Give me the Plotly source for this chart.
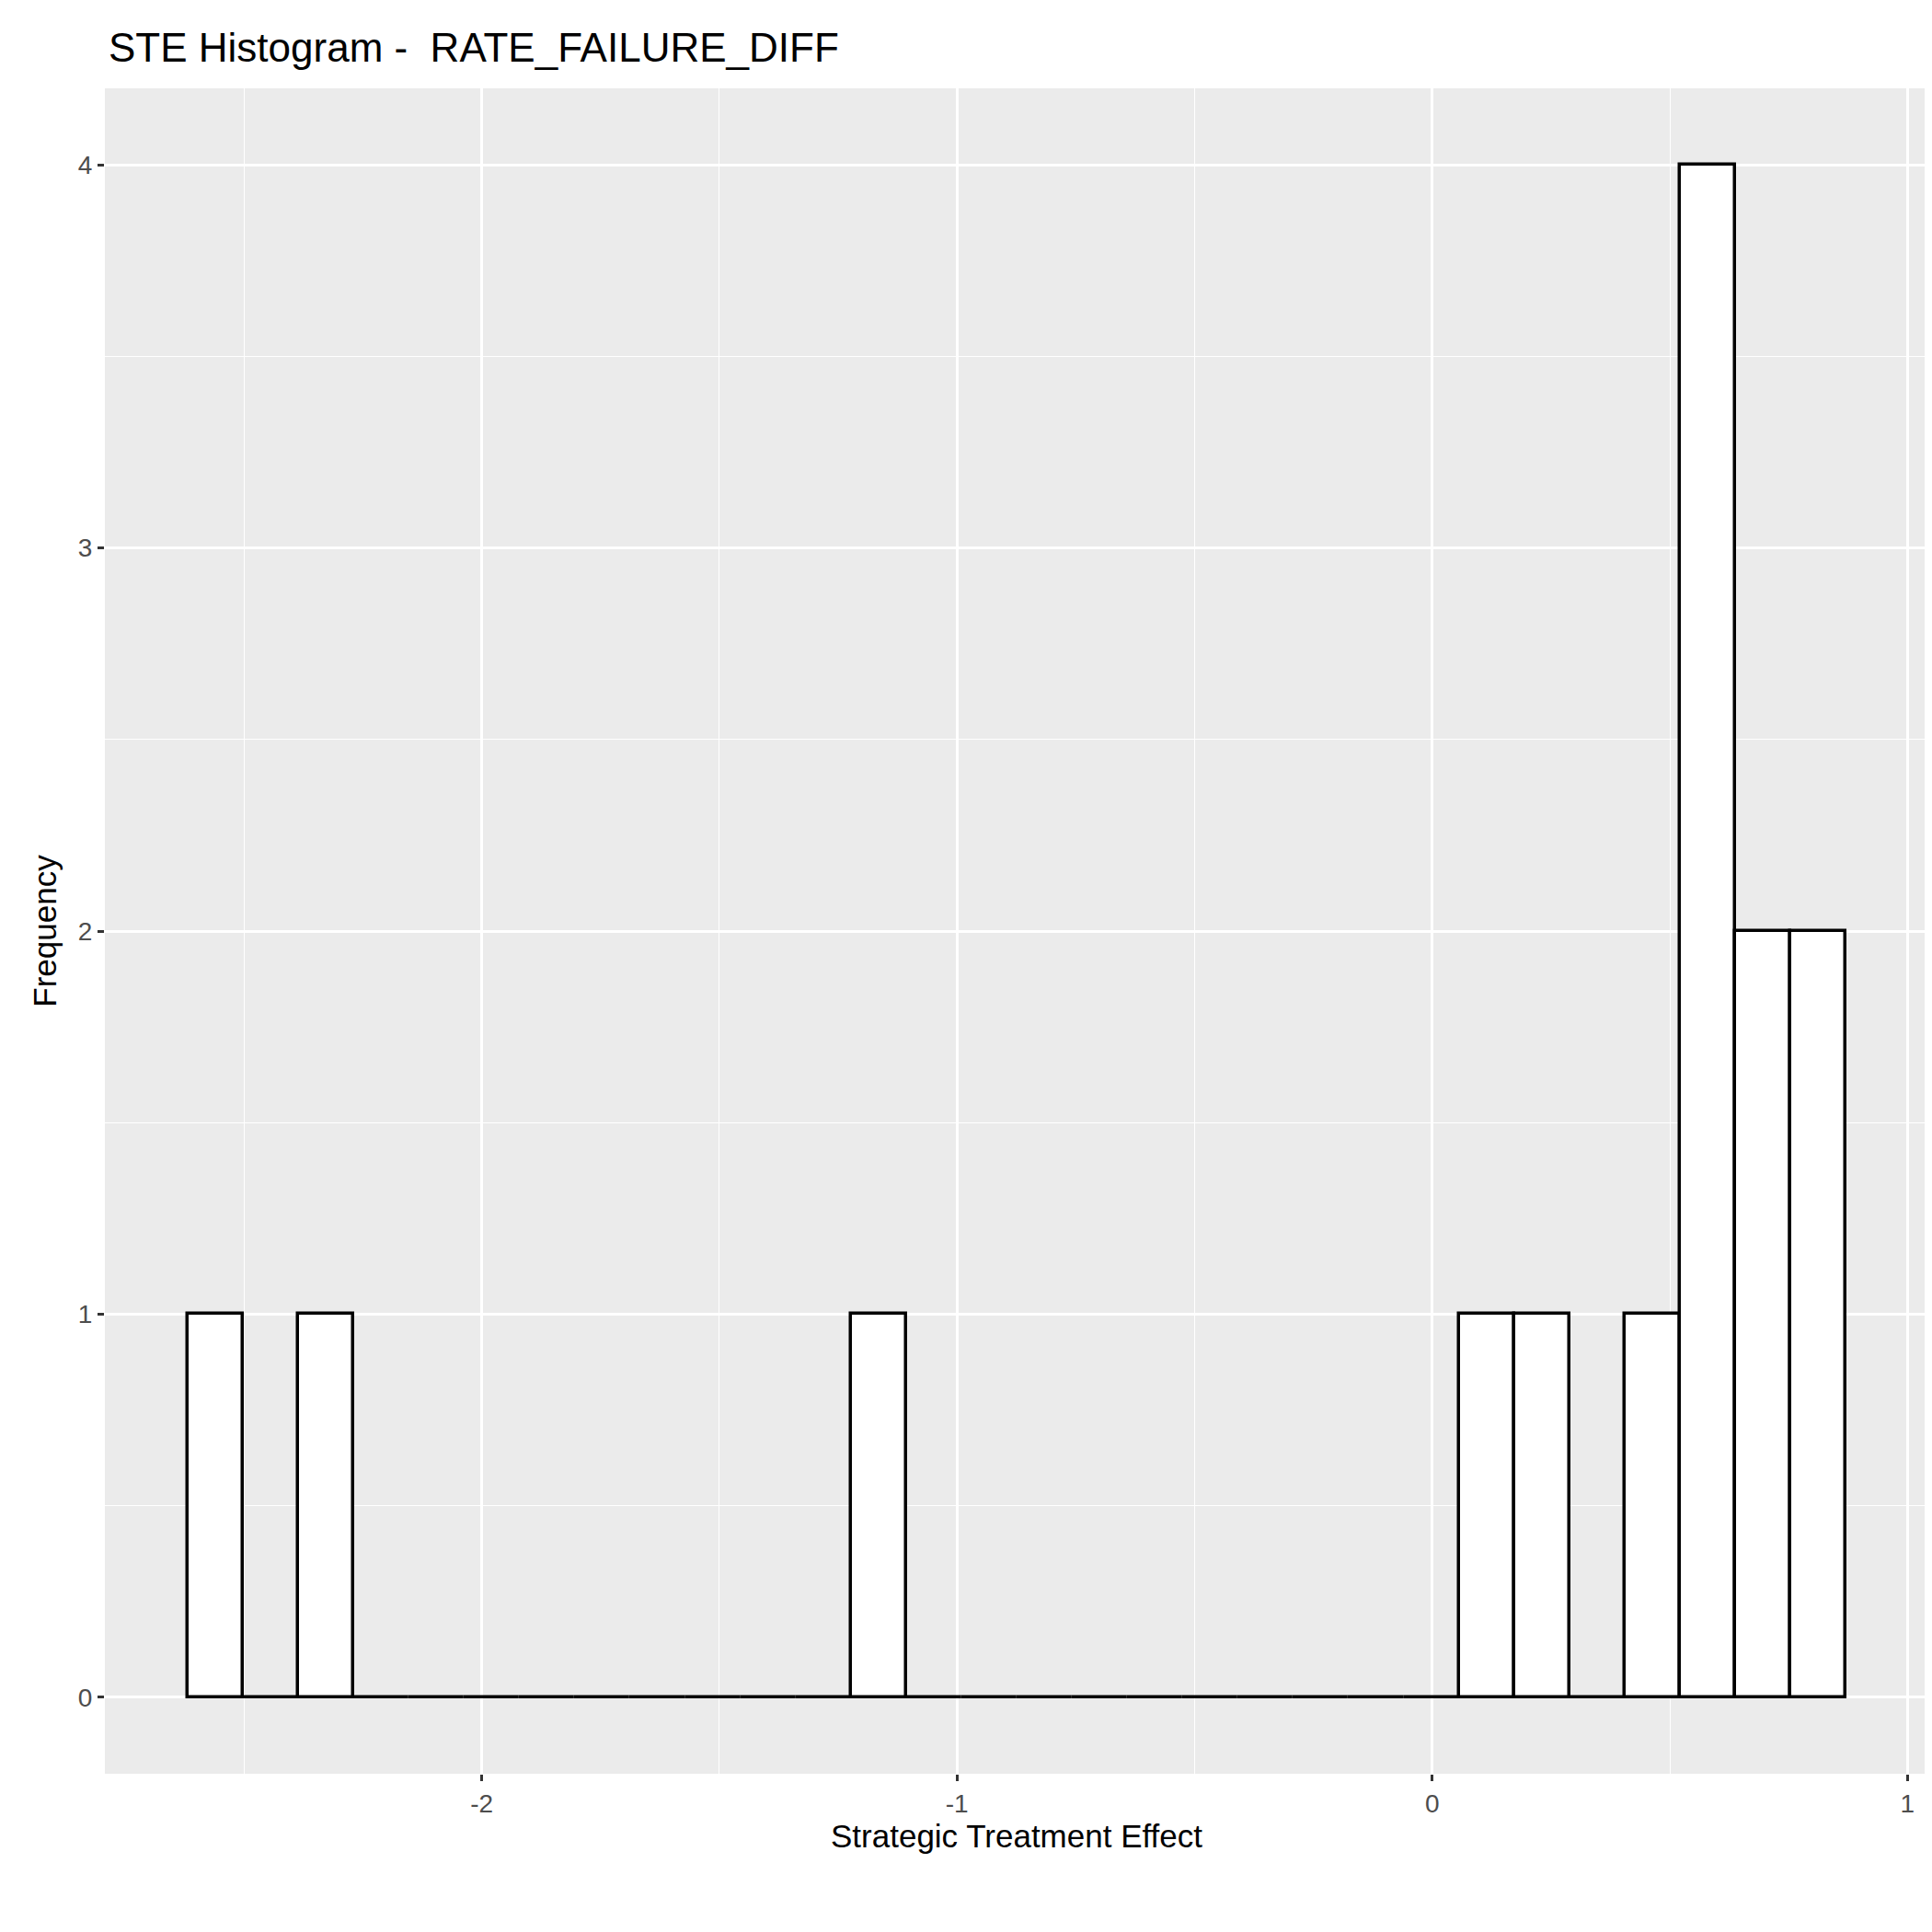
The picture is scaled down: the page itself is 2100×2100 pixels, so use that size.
import plotly.graph_objects as go

# 30-bin histogram
bin_start = -2.619
bin_end = 0.870
counts = [1, 0, 1, 0, 0, 0, 0, 0, 0, 0, 0, 0, 1, 0, 0, 0, 0, 0, 0, 0, 0, 0, 0, 1, 1, 0, 1, 4, 2, 2]
x_ticks = [-2, -1, 0, 1]
x_labels = ["-2", "-1", "0", "1"]
y_ticks = [0, 1, 2, 3, 4]

n = len(counts)
bw = (bin_end - bin_start) / n
centers = [bin_start + bw * (i + 0.5) for i in range(n)]

fig = go.Figure()
fig.add_trace(go.Bar(
    x=centers, y=counts, width=bw,
    marker=dict(color="white", line=dict(color="black", width=3.5)),
    showlegend=False,
))

font = "Liberation Sans, Arial, sans-serif"
fig.update_layout(
    width=2100, height=2100,
    margin=dict(l=106, r=12, t=88, b=180),
    paper_bgcolor="white", plot_bgcolor="#EBEBEB",
    title=dict(text="STE Histogram -  RATE_FAILURE_DIFF", x=110/2100, xanchor="left",
               y=1-44/2100, yanchor="middle", font=dict(family=font, size=44, color="black")),
    bargap=0,
)
axis_common = dict(
    showgrid=True, gridcolor="white", gridwidth=2.6,
    zeroline=False, showline=False,
    ticks="outside", ticklen=7, tickwidth=2.5, tickcolor="#333333",
    tickfont=dict(family=font, size=28, color="#4D4D4D"),
    title_font=dict(family=font, size=35, color="black"),
)
fig.update_xaxes(range=[-2.793, 1.044], tickvals=x_ticks, ticktext=x_labels,
                 minor=dict(tickvals=[-2.5, -1.5, -0.5, 0.5], showgrid=True, gridcolor="white", gridwidth=1.3),
                 title_text="Strategic Treatment Effect", title_standoff=8, **axis_common)
fig.update_yaxes(range=[-0.2, 4.2], tickvals=y_ticks,
                 minor=dict(tickvals=[0.5, 1.5, 2.5, 3.5], showgrid=True, gridcolor="white", gridwidth=1.3),
                 title_text="Frequency", title_standoff=12, **axis_common)

fig.write_html("out.html")
